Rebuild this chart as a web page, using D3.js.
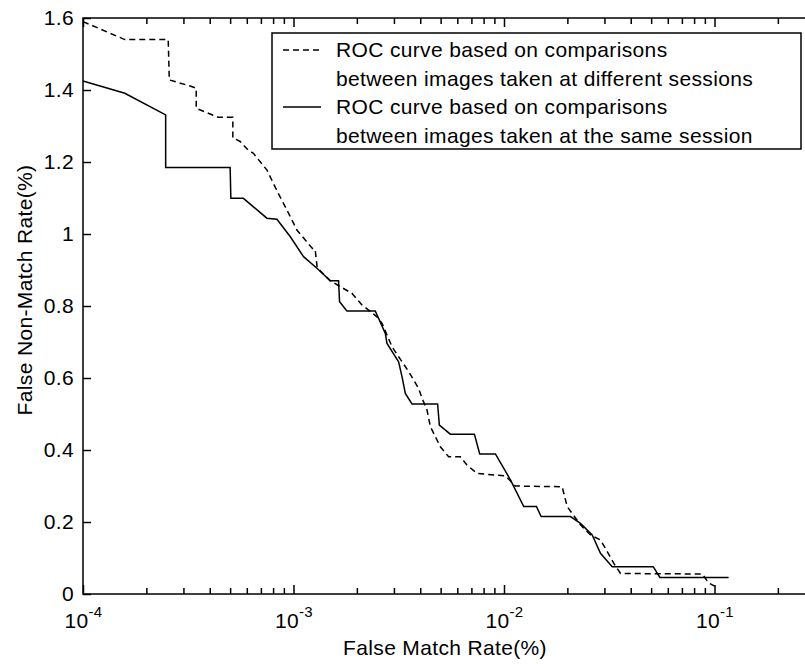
<!doctype html>
<html>

<head>
    <meta charset="utf-8">
    <title>ROC</title>
    <style>
        body { margin: 0; background: #fff; }
        svg { display: block; font-family: "Liberation Sans", Arial, sans-serif; }
        svg text { letter-spacing: 0.35px; }
    </style>
    <script src="https://cdn.jsdelivr.net/npm/d3@7"></script>
</head>

<body>
    <svg width="805" height="664"></svg>
    <script>
    // FMR (%) and FNMR (%)
    var fmrDiff = [1.00e-4, 1.58e-4, 2.54e-4, 2.57e-4, 3.23e-4, 3.45e-4, 3.45e-4, 4.40e-4, 5.15e-4, 5.15e-4,
        5.58e-4, 6.09e-4, 6.45e-4, 7.47e-4, 8.46e-4, 9.30e-4, 1.038e-3, 1.245e-3, 1.268e-3, 1.296e-3,
        1.495e-3, 1.896e-3, 2.115e-3, 2.492e-3, 2.633e-3, 2.937e-3, 3.277e-3, 3.523e-3, 3.930e-3, 4.079e-3,
        4.308e-3, 4.467e-3, 4.984e-3, 5.458e-3, 6.203e-3, 6.677e-3, 7.451e-3, 1.016e-2, 1.133e-2, 1.889e-2,
        1.996e-2, 2.308e-2, 2.576e-2, 2.873e-2, 3.093e-2, 3.324e-2, 3.577e-2, 8.749e-2, 9.374e-2, 1.001e-1];
    var fnmrDiff = [1.59, 1.54, 1.54, 1.428, 1.411, 1.405, 1.349, 1.324, 1.324, 1.267,
        1.257, 1.233, 1.224, 1.178, 1.113, 1.067, 1.011, 0.956, 0.956, 0.906,
        0.870, 0.835, 0.803, 0.770, 0.752, 0.687, 0.645, 0.618, 0.571, 0.544,
        0.511, 0.465, 0.409, 0.381, 0.381, 0.358, 0.335, 0.328, 0.300, 0.298,
        0.243, 0.192, 0.164, 0.150, 0.118, 0.085, 0.057, 0.0556, 0.031, 0.022];

    var fmrSame = [1.00e-4, 1.58e-4, 2.47e-4, 2.47e-4, 5.00e-4, 5.04e-4, 5.78e-4, 7.47e-4, 8.34e-4, 9.64e-4,
        1.116e-3, 1.292e-3, 1.495e-3, 1.637e-3, 1.655e-3, 1.794e-3, 2.446e-3, 2.730e-3, 2.781e-3, 3.157e-3,
        3.277e-3, 3.398e-3, 3.656e-3, 4.839e-3, 4.930e-3, 5.561e-3, 7.234e-3, 7.666e-3, 9.103e-3, 1.073e-2,
        1.241e-2, 1.426e-2, 1.501e-2, 2.069e-2, 2.308e-2, 2.624e-2, 2.873e-2, 3.266e-2, 5.117e-2, 5.501e-2,
        1.167e-1];
    var fnmrSame = [1.425, 1.391, 1.331, 1.185, 1.185, 1.099, 1.099, 1.044, 1.041, 0.993,
        0.937, 0.905, 0.870, 0.870, 0.812, 0.786, 0.786, 0.724, 0.696, 0.645,
        0.604, 0.557, 0.528, 0.528, 0.469, 0.444, 0.444, 0.389, 0.389, 0.317,
        0.243, 0.243, 0.215, 0.215, 0.196, 0.164, 0.113, 0.076, 0.076, 0.046,
        0.046];

    var yTicks = [0, 0.2, 0.4, 0.6, 0.8, 1, 1.2, 1.4, 1.6];
    var xMajor = [1e-4, 1e-3, 1e-2, 1e-1];
    var xExp = ["-4", "-3", "-2", "-1"];
    var xMinor = [2e-4, 3e-4, 4e-4, 5e-4, 6e-4, 7e-4, 8e-4, 9e-4,
        2e-3, 3e-3, 4e-3, 5e-3, 6e-3, 7e-3, 8e-3, 9e-3,
        2e-2, 3e-2, 4e-2, 5e-2, 6e-2, 7e-2, 8e-2, 9e-2, 2e-1];
    var legendText = [
        ["ROC curve based on comparisons", "between images taken at different sessions"],
        ["ROC curve based on comparisons", "between images taken at the same session"]
    ];

    (function() {
        var svg = d3.select("svg");
        var mLeft = 83, mTop = 18, mBottom = 594, mRight = 810;

        var x = d3.scaleLog().domain([1e-4, 1]).range([mLeft, 925]);
        var y = d3.scaleLinear().domain([0, 1.6]).range([mBottom, mTop]);

        // bottom axis
        var gx = svg.append("g").attr("transform", "translate(0," + mBottom + ")")
            .call(d3.axisBottom(x).tickValues(xMajor).tickSizeInner(-9).tickSizeOuter(0).tickFormat(""));
        gx.select(".domain").remove();
        gx.selectAll(".tick line").attr("stroke-width", 1.5);
        gx.selectAll(".tick").append("text")
            .attr("fill", "#000")
            .attr("y", 34)
            .attr("text-anchor", "middle")
            .attr("font-size", 21)
            .each(function(d, i) {
                var t = d3.select(this);
                t.append("tspan").text("10");
                t.append("tspan").attr("dy", -11).attr("font-size", 15).text(xExp[i]);
            });
        var gxm = svg.append("g").attr("transform", "translate(0," + mBottom + ")")
            .call(d3.axisBottom(x).tickValues(xMinor).tickSizeInner(-6).tickSizeOuter(0).tickFormat(""));
        gxm.select(".domain").remove();
        gxm.selectAll(".tick line").attr("stroke-width", 1.5);

        // top mirrored ticks
        [[xMajor, 9], [xMinor, 6]].forEach(function(p) {
            var g = svg.append("g").attr("transform", "translate(0," + mTop + ")")
                .call(d3.axisTop(x).tickValues(p[0]).tickSizeInner(-p[1]).tickSizeOuter(0).tickFormat(""));
            g.select(".domain").remove();
            g.selectAll(".tick line").attr("stroke-width", 1.5);
        });

        // left axis
        var gy = svg.append("g").attr("transform", "translate(" + mLeft + ",0)")
            .call(d3.axisLeft(y).tickValues(yTicks).tickSizeInner(-8).tickSizeOuter(0).tickPadding(9)
                .tickFormat(function(d) { return +d.toFixed(1); }));
        gy.select(".domain").remove();
        gy.selectAll(".tick line").attr("stroke-width", 1.5);
        gy.selectAll(".tick text").attr("font-size", 21).attr("fill", "#000");
        gy.attr("font-family", null);
        gx.attr("font-family", null);

        // frame
        svg.append("rect")
            .attr("x", mLeft).attr("y", mTop)
            .attr("width", mRight - mLeft).attr("height", mBottom - mTop)
            .attr("fill", "none").attr("stroke", "#000").attr("stroke-width", 1.5);

        var line = d3.line()
            .x(function(d) { return x(d[0]); })
            .y(function(d) { return y(d[1]); });

        svg.append("path")
            .datum(d3.zip(fmrDiff, fnmrDiff))
            .attr("d", line)
            .attr("fill", "none").attr("stroke", "#000").attr("stroke-width", 1.5)
            .attr("stroke-dasharray", "6,4");

        svg.append("path")
            .datum(d3.zip(fmrSame, fnmrSame))
            .attr("d", line)
            .attr("fill", "none").attr("stroke", "#000").attr("stroke-width", 1.5);

        // legend
        var lg = svg.append("g");
        lg.append("rect")
            .attr("x", 272).attr("y", 33).attr("width", 529).attr("height", 116)
            .attr("fill", "#fff").attr("stroke", "#000").attr("stroke-width", 1.5);
        legendText.forEach(function(lines, i) {
            var by = 57 + i * 57;
            lg.append("line")
                .attr("x1", 283).attr("x2", 321).attr("y1", by - 7).attr("y2", by - 7)
                .attr("stroke", "#000").attr("stroke-width", 1.5)
                .attr("stroke-dasharray", i === 0 ? "6,4" : null);
            lines.forEach(function(s, j) {
                lg.append("text")
                    .attr("x", 336).attr("y", by + j * 28.5)
                    .attr("font-size", 21)
                    .text(s);
            });
        });

        // axis titles
        svg.append("text")
            .attr("x", 445).attr("y", 655)
            .attr("text-anchor", "middle").attr("font-size", 21)
            .text("False Match Rate(%)");
        svg.append("text")
            .attr("transform", "translate(32,290) rotate(-90)")
            .attr("text-anchor", "middle").attr("font-size", 21)
            .text("False Non-Match Rate(%)");
    })();
    </script>
</body>

</html>
